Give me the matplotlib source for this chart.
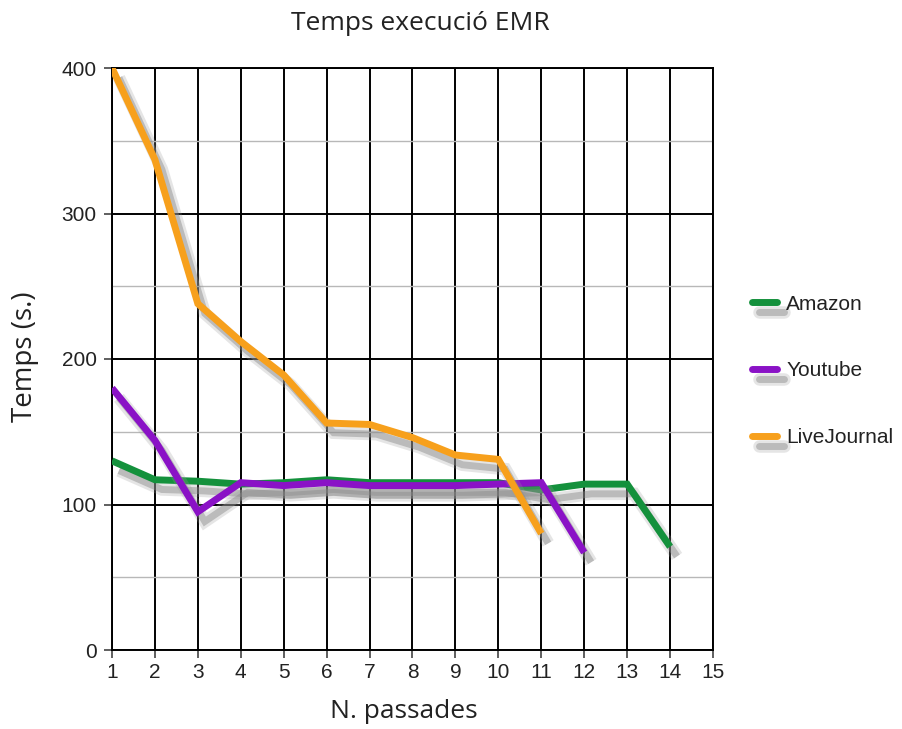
import matplotlib
matplotlib.use("Agg")
import matplotlib.pyplot as plt
import matplotlib.patheffects as pe

passades = list(range(1, 16))
amazon_x = list(range(1, 15))
amazon = [130, 117, 116, 114, 115, 117, 115, 115, 115, 115, 110, 114, 114, 71]
youtube_x = list(range(1, 13))
youtube = [180, 144, 95, 115, 113, 115, 113, 113, 113, 114, 115, 67]
livej_x = list(range(1, 12))
livej = [400, 337, 238, 212, 189, 156, 155, 146, 134, 131, 80]

colors = {"Amazon": "#14913c", "Youtube": "#8a12c6", "LiveJournal": "#f7a01c"}

fig = plt.figure(figsize=(9.03, 7.29), dpi=100)
ax = fig.add_axes([112/903, 1-650/729, (713-112)/903, (650-68)/729])

# soft grey drop shadow under each line
shadow = [pe.SimpleLineShadow(offset=(5, -7), shadow_color="#999999", alpha=0.25, linewidth=9),
          pe.SimpleLineShadow(offset=(5, -7), shadow_color="#888888", alpha=0.45, linewidth=5),
          pe.Normal()]

for name, xs, ys in [("Amazon", amazon_x, amazon),
                     ("Youtube", youtube_x, youtube),
                     ("LiveJournal", livej_x, livej)]:
    ax.plot(xs, ys, color=colors[name], lw=5, label=name,
            solid_capstyle="butt", solid_joinstyle="miter", zorder=3,
            path_effects=shadow)

ax.set_xlim(1, 15)
ax.set_ylim(0, 400)
ax.set_xticks(passades)
ax.set_yticks([0, 100, 200, 300, 400])
ax.set_yticks([50, 150, 250, 350], minor=True)
ax.grid(axis="x", color="black", lw=1.4)
ax.grid(axis="y", which="major", color="black", lw=1.4)
ax.grid(axis="y", which="minor", color="#b8b8b8", lw=1)
ax.tick_params(axis="both", which="major", length=6, width=1.2, color="#444444",
               labelsize=15)
ax.tick_params(axis="x", pad=3.5)
ax.tick_params(axis="y", pad=5)
ax.tick_params(axis="y", which="minor", length=0)
for lab in ax.get_xticklabels() + ax.get_yticklabels():
    lab.set_fontfamily("Liberation Sans")
    lab.set_color("#222222")
for s in ax.spines.values():
    s.set_color("black")
    s.set_linewidth(1.4)

fig.text(420/903, 1-23/729, "Temps execució EMR", ha="center", va="center",
         fontsize=19, fontfamily="Open Sans", color="#222222")
fig.text(404/903, 1-711/729, "N. passades", ha="center", va="center",
         fontsize=19, fontfamily="Open Sans", color="#222222")
fig.text(25/903, 1-357/729, "Temps (s.)", ha="center", va="center", rotation=90,
         fontsize=20, fontfamily="Open Sans", color="#222222")

leg = ax.legend(loc="center left", bbox_to_anchor=((752-112)/601, (650-371)/582),
                frameon=False, borderpad=0, borderaxespad=0,
                prop={"family": "Liberation Sans", "size": 15},
                handlelength=1.2, handletextpad=0.45, labelspacing=2.3)
for line in leg.get_lines():
    line.set_solid_capstyle("round")
for t in leg.get_texts():
    t.set_color("#222222")

fig.savefig("out.png", dpi=100)
